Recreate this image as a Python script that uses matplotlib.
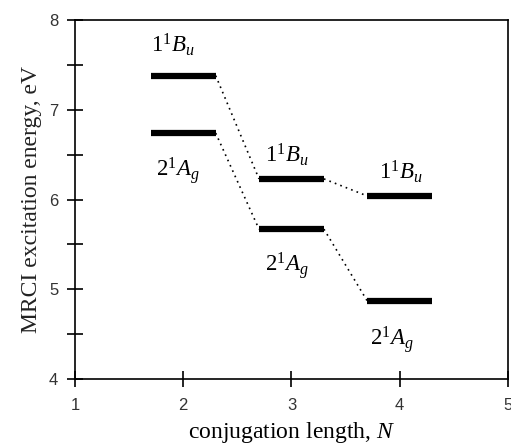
import matplotlib

matplotlib.use("Agg")
import matplotlib.pyplot as plt
from matplotlib.ticker import MultipleLocator

plt.rcParams["mathtext.fontset"] = "custom"
plt.rcParams["mathtext.rm"] = "Liberation Serif"
plt.rcParams["mathtext.it"] = "Liberation Serif:italic"

# conjugation length and MRCI energies (eV)
lengths = [2, 3, 4]
e_bu = [7.38, 6.23, 6.04]
e_ag = [6.74, 5.67, 4.87]
label_bu = r"$1^1B_u$"
label_ag = r"$2^1A_g$"

half = 0.3
serif = "Liberation Serif"

fig = plt.figure(figsize=(5.11, 4.46), dpi=100)
ax = fig.add_axes([0.1468, 0.1502, 0.8472, 0.8048])

for energies in (e_bu, e_ag):
    # levels
    ax.hlines(energies, [n - half for n in lengths], [n + half for n in lengths],
              color="black", linewidth=4.5)
    # dotted connectors between neighbouring levels
    for i in range(len(lengths) - 1):
        ax.plot([lengths[i] + half, lengths[i + 1] - half],
                [energies[i], energies[i + 1]],
                color="black", linestyle=(0, (1, 2.5)), linewidth=1.2)

# labels above the 1Bu levels and below the 2Ag levels
bu_offsets = [(-0.1, 0.34), (-0.04, 0.27), (0.01, 0.27)]
ag_offsets = [(-0.05, -0.42), (-0.04, -0.4), (-0.07, -0.43)]
for n, e, (dx, dy) in zip(lengths, e_bu, bu_offsets):
    ax.text(n + dx, e + dy, label_bu, ha="center", va="center", fontsize=16.5)
for n, e, (dx, dy) in zip(lengths, e_ag, ag_offsets):
    ax.text(n + dx, e + dy, label_ag, ha="center", va="center", fontsize=16.5)

ax.set_xlim(1, 5)
ax.set_ylim(4, 8)
ax.xaxis.set_major_locator(MultipleLocator(1))
ax.yaxis.set_major_locator(MultipleLocator(1))
ax.yaxis.set_minor_locator(MultipleLocator(0.5))
ax.tick_params(which="both", direction="inout", length=12, width=1.2,
               top=False, right=False)
ax.tick_params(which="major", labelsize=12, labelcolor="#333333")
ax.tick_params(axis="x", pad=8)
ax.tick_params(axis="y", pad=6)
for lab in ax.get_xticklabels() + ax.get_yticklabels():
    lab.set_family("Liberation Sans")
for spine in ax.spines.values():
    spine.set_linewidth(1.2)

ax.set_xlabel(r"conjugation length, $N$", fontsize=17, family=serif, labelpad=5)
ax.set_ylabel("MRCI excitation energy, eV", fontsize=17, family=serif,
              color="#222222", labelpad=5)

fig.savefig("out.png", dpi=100)
